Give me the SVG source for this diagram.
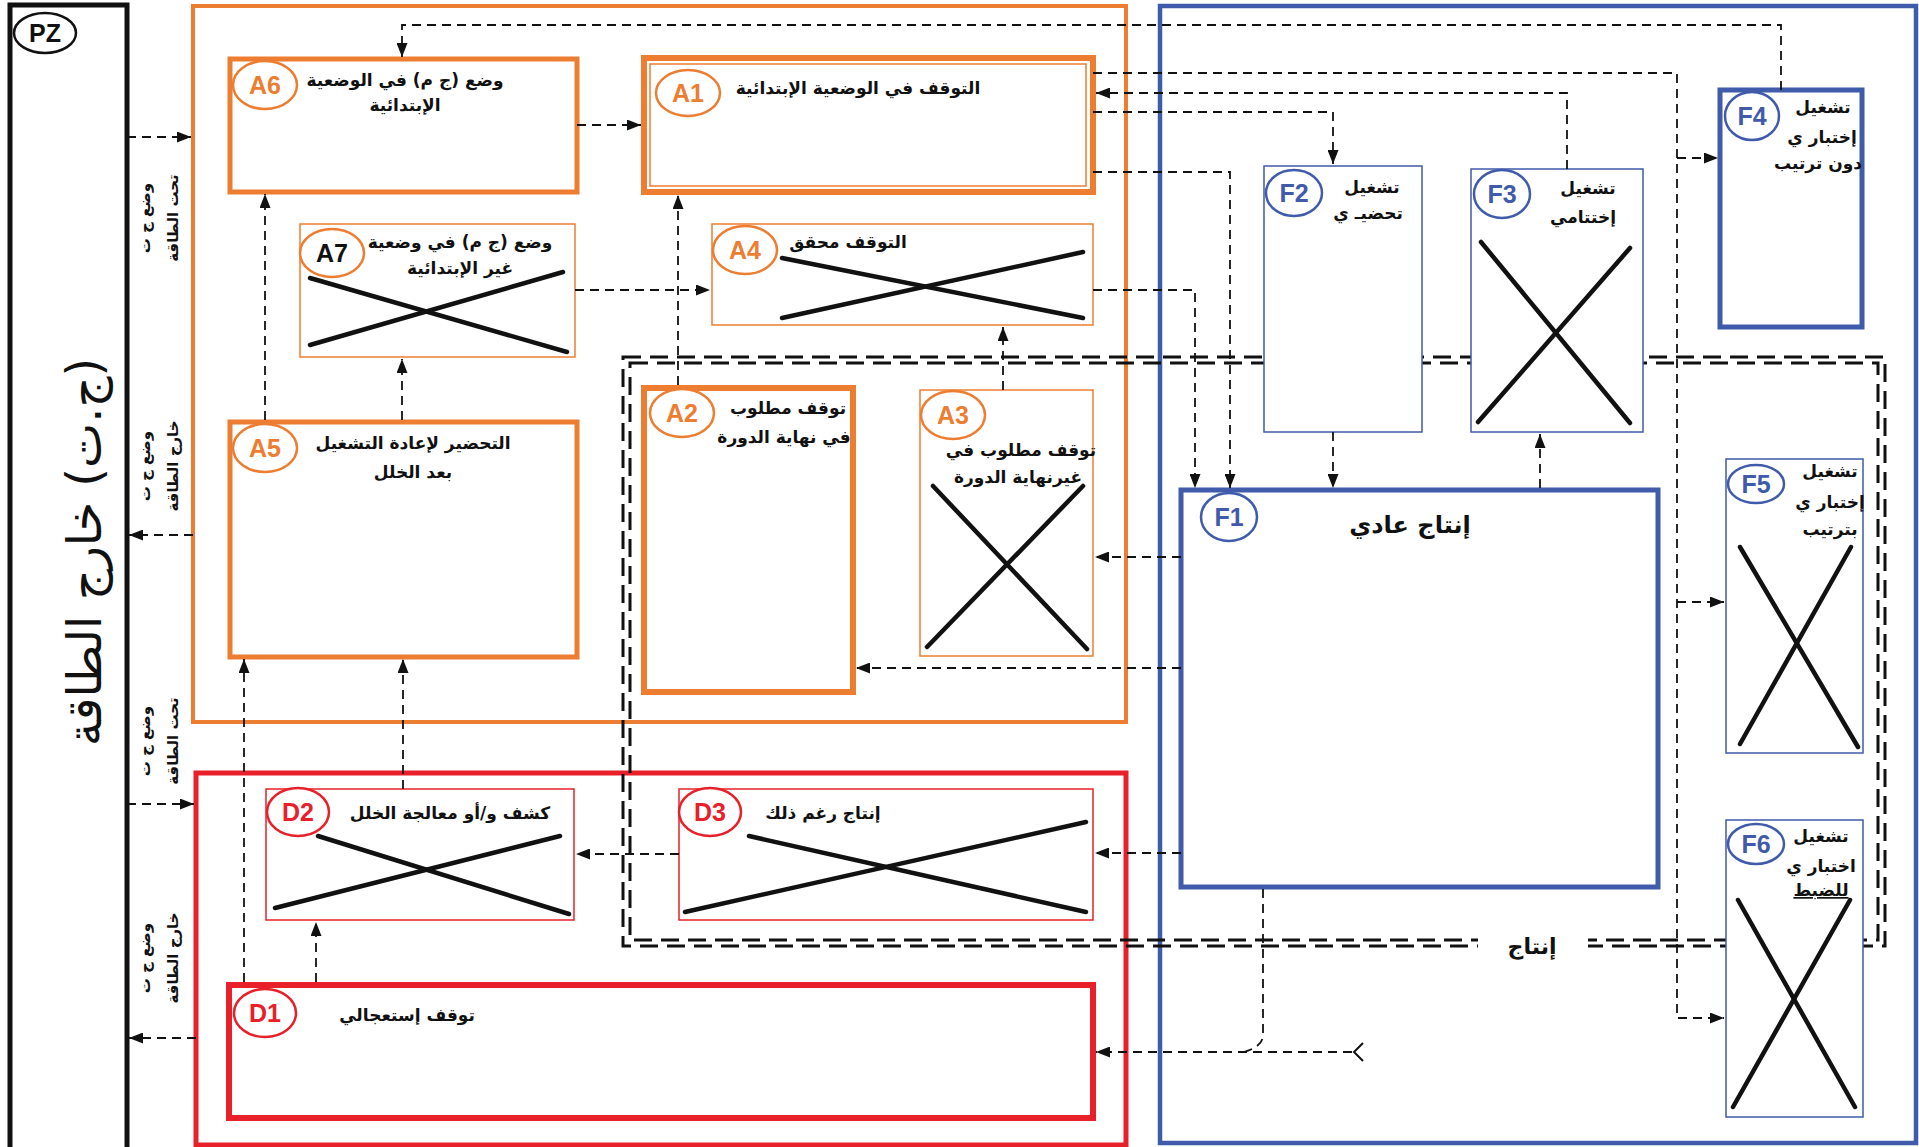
<svg xmlns="http://www.w3.org/2000/svg" width="1919" height="1147" viewBox="0 0 1919 1147">
<defs>
<style>
.c{fill:none;stroke:#111;stroke-width:1.8;stroke-dasharray:9 6}
.ar{marker-end:url(#ah)}
.x{stroke:#111;stroke-width:4.5;stroke-linecap:round}
.t{font-family:"DejaVu Sans",sans-serif;font-weight:bold;font-size:17px;fill:#111;text-anchor:middle;direction:rtl}
.ts{font-family:"DejaVu Sans",sans-serif;font-weight:bold;font-size:15px;fill:#111;text-anchor:middle;direction:rtl}
.lbl{font-family:"Liberation Sans",Arial,sans-serif;font-weight:bold;font-size:25px;text-anchor:middle}
.or{fill:none;stroke:#ED7D31}
.rd{fill:none;stroke:#E8202A}
.bl{fill:none;stroke:#3F5BA9}
.wb{fill:#fff}
.enc{fill:none;stroke:#111;stroke-width:3;stroke-dasharray:18 9}
</style>
<marker id="ah" viewBox="0 0 14 11" refX="14" refY="5.5" markerWidth="14" markerHeight="11" markerUnits="userSpaceOnUse" orient="auto"><path d="M0,0 L14,5.5 L0,11 z" fill="#111"/></marker>
</defs>
<rect x="0" y="0" width="1919" height="1147" fill="#fff"/>

<!-- containers -->
<g id="PZ">
<rect x="10" y="5" width="117" height="1150" fill="none" stroke="#111" stroke-width="5"/>
<ellipse cx="45" cy="33" rx="31" ry="20" fill="#fff" stroke="#111" stroke-width="2.5"/>
<text x="45" y="42" font-family="Liberation Sans, Arial, sans-serif" font-weight="bold" font-size="25" text-anchor="middle" fill="#111">PZ</text>
<text transform="translate(101,552) rotate(-90)" font-family="DejaVu Sans, sans-serif" font-size="48" text-anchor="middle" fill="#111" direction="rtl">(ج.ت) خارج الطاقة</text>
</g>
<g id="side-labels">
<text class="ts" transform="translate(150,218) rotate(-90)">وضع ج ت</text>
<text class="ts" transform="translate(178,218) rotate(-90)">تحت الطاقة</text>
<text class="ts" transform="translate(150,466) rotate(-90)">وضع ج ت</text>
<text class="ts" transform="translate(178,466) rotate(-90)">خارج الطاقة</text>
<text class="ts" transform="translate(150,741) rotate(-90)">وضع ج ت</text>
<text class="ts" transform="translate(178,741) rotate(-90)">تحت الطاقة</text>
<text class="ts" transform="translate(150,958) rotate(-90)">وضع ج ت</text>
<text class="ts" transform="translate(178,958) rotate(-90)">خارج الطاقة</text>
</g>
<g id="group-A"><rect x="193" y="6" width="933" height="716" class="or" stroke-width="4"/></g>
<g id="group-D"><rect x="196" y="773" width="930" height="372" class="rd" stroke-width="5"/></g>
<g id="group-F"><rect x="1160" y="6" width="756" height="1137" class="bl" stroke-width="4.5"/></g>

<g id="production">
<rect x="623" y="357" width="1262" height="589" class="enc"/>
<rect x="630" y="363" width="1248" height="577" class="enc"/>
<rect x="1478" y="930" width="110" height="26" fill="#fff"/>
<text x="1532" y="954" font-family="DejaVu Sans, sans-serif" font-weight="bold" font-size="22" text-anchor="middle" fill="#111" direction="rtl">إنتاج</text>
</g>

<!-- A nodes -->
<g id="A6">
<rect x="230" y="59" width="347" height="133" class="wb"/><rect x="230" y="59" width="347" height="133" class="or" stroke-width="5"/>
<ellipse cx="265" cy="85" rx="32" ry="24" fill="#fff" stroke="#ED7D31" stroke-width="2.5"/>
<text x="265" y="94" class="lbl" fill="#ED7D31">A6</text>
<text x="405" y="86" class="t">وضع (ج م) في الوضعية</text>
<text x="405" y="111" class="t">الإبتدائية</text>
</g>
<g id="A1">
<rect x="644" y="58" width="449" height="134" class="wb"/><rect x="644" y="58" width="449" height="134" class="or" stroke-width="6"/>
<rect x="650" y="64" width="436" height="122" class="or" stroke-width="1.5"/>
<ellipse cx="688" cy="93" rx="32" ry="23" fill="#fff" stroke="#ED7D31" stroke-width="2.5"/>
<text x="688" y="102" class="lbl" fill="#ED7D31">A1</text>
<text x="858" y="94" class="t">التوقف في الوضعية الإبتدائية</text>
</g>
<g id="A7">
<rect x="300" y="224" width="275" height="133" class="wb"/><rect x="300" y="224" width="275" height="133" class="or" stroke-width="1.5"/>
<line x1="310" y1="278" x2="567" y2="352" class="x"/><line x1="310" y1="345" x2="563" y2="272" class="x"/>
<ellipse cx="332" cy="253" rx="32" ry="24" fill="#fff" stroke="#ED7D31" stroke-width="2.5"/>
<text x="332" y="262" class="lbl" fill="#111">A7</text>
<text x="460" y="248" class="t">وضع (ج م) في وضعية</text>
<text x="460" y="274" class="t">غير الإبتدائية</text>
</g>
<g id="A4">
<rect x="712" y="224" width="381" height="101" class="wb"/><rect x="712" y="224" width="381" height="101" class="or" stroke-width="1.5"/>
<line x1="782" y1="258" x2="1083" y2="318" class="x"/><line x1="782" y1="318" x2="1083" y2="252" class="x"/>
<ellipse cx="745" cy="250" rx="32" ry="24" fill="#fff" stroke="#ED7D31" stroke-width="2.5"/>
<text x="745" y="259" class="lbl" fill="#ED7D31">A4</text>
<text x="848" y="248" class="t">التوقف محقق</text>
</g>
<g id="A5">
<rect x="230" y="422" width="347" height="235" class="wb"/><rect x="230" y="422" width="347" height="235" class="or" stroke-width="5"/>
<ellipse cx="265" cy="448" rx="32" ry="24" fill="#fff" stroke="#ED7D31" stroke-width="2.5"/>
<text x="265" y="457" class="lbl" fill="#ED7D31">A5</text>
<text x="413" y="449" class="t">التحضير لإعادة التشغيل</text>
<text x="413" y="478" class="t">بعد الخلل</text>
</g>
<g id="A2">
<rect x="644" y="388" width="209" height="304" class="wb"/><rect x="644" y="388" width="209" height="304" class="or" stroke-width="6"/>
<ellipse cx="682" cy="413" rx="32" ry="24" fill="#fff" stroke="#ED7D31" stroke-width="2.5"/>
<text x="682" y="422" class="lbl" fill="#ED7D31">A2</text>
<text x="788" y="414" class="t">توقف مطلوب</text>
<text x="784" y="443" class="t">في نهاية الدورة</text>
</g>
<g id="A3">
<rect x="920" y="390" width="173" height="266" class="wb"/><rect x="920" y="390" width="173" height="266" class="or" stroke-width="1.5"/>
<line x1="933" y1="486" x2="1087" y2="649" class="x"/><line x1="1083" y1="486" x2="927" y2="647" class="x"/>
<ellipse cx="953" cy="415" rx="32" ry="24" fill="#fff" stroke="#ED7D31" stroke-width="2.5"/>
<text x="953" y="424" class="lbl" fill="#ED7D31">A3</text>
<text x="1021" y="456" class="t">توقف مطلوب في</text>
<text x="1018" y="483" class="t">غيرنهاية الدورة</text>
</g>

<!-- D nodes -->
<g id="D2">
<rect x="266" y="789" width="308" height="131" class="wb"/><rect x="266" y="789" width="308" height="131" class="rd" stroke-width="1.5"/>
<line x1="318" y1="836" x2="569" y2="914" class="x"/><line x1="275" y1="908" x2="560" y2="836" class="x"/>
<ellipse cx="298" cy="812" rx="31" ry="24" fill="#fff" stroke="#E8202A" stroke-width="2.5"/>
<text x="298" y="821" class="lbl" fill="#E8202A">D2</text>
<text x="450" y="819" class="t">كشف و/أو معالجة الخلل</text>
</g>
<g id="D3">
<rect x="679" y="789" width="414" height="131" class="wb"/><rect x="679" y="789" width="414" height="131" class="rd" stroke-width="1.5"/>
<line x1="749" y1="836" x2="1086" y2="912" class="x"/><line x1="685" y1="912" x2="1086" y2="822" class="x"/>
<ellipse cx="710" cy="812" rx="31" ry="24" fill="#fff" stroke="#E8202A" stroke-width="2.5"/>
<text x="710" y="821" class="lbl" fill="#E8202A">D3</text>
<text x="823" y="819" class="t">إنتاج رغم ذلك</text>
</g>
<g id="D1">
<rect x="229" y="985" width="864" height="133" class="wb"/><rect x="229" y="985" width="864" height="133" class="rd" stroke-width="6"/>
<ellipse cx="265" cy="1013" rx="31" ry="24" fill="#fff" stroke="#E8202A" stroke-width="2.5"/>
<text x="265" y="1022" class="lbl" fill="#E8202A">D1</text>
<text x="407" y="1021" class="t">توقف إستعجالي</text>
</g>

<!-- F nodes -->
<g id="F1">
<rect x="1181" y="490" width="477" height="397" class="wb"/><rect x="1181" y="490" width="477" height="397" class="bl" stroke-width="5"/>
<ellipse cx="1229" cy="517" rx="28" ry="24" fill="#fff" stroke="#3F5BA9" stroke-width="2.5"/>
<text x="1229" y="526" class="lbl" fill="#3F5BA9">F1</text>
<text x="1410" y="533" font-family="DejaVu Sans, sans-serif" font-weight="bold" font-size="24" text-anchor="middle" fill="#111" direction="rtl">إنتاج عادي</text>
</g>
<g id="F2">
<rect x="1264" y="166" width="158" height="266" class="wb"/><rect x="1264" y="166" width="158" height="266" class="bl" stroke-width="1.5"/>
<ellipse cx="1294" cy="193" rx="28" ry="23" fill="#fff" stroke="#3F5BA9" stroke-width="2.5"/>
<text x="1294" y="202" class="lbl" fill="#3F5BA9">F2</text>
<text x="1372" y="193" class="t">تشغيل</text>
<text x="1368" y="219" class="t">تحضيـ ي</text>
</g>
<g id="F3">
<rect x="1471" y="169" width="172" height="263" class="wb"/><rect x="1471" y="169" width="172" height="263" class="bl" stroke-width="1.5"/>
<line x1="1481" y1="242" x2="1630" y2="423" class="x"/><line x1="1630" y1="248" x2="1478" y2="422" class="x"/>
<ellipse cx="1502" cy="194" rx="28" ry="24" fill="#fff" stroke="#3F5BA9" stroke-width="2.5"/>
<text x="1502" y="203" class="lbl" fill="#3F5BA9">F3</text>
<text x="1588" y="194" class="t">تشغيل</text>
<text x="1583" y="223" class="t">إختتامي</text>
</g>
<g id="F4">
<rect x="1720" y="90" width="142" height="237" class="wb"/><rect x="1720" y="90" width="142" height="237" class="bl" stroke-width="5"/>
<ellipse cx="1752" cy="116" rx="27" ry="24" fill="#fff" stroke="#3F5BA9" stroke-width="2.5"/>
<text x="1752" y="125" class="lbl" fill="#3F5BA9">F4</text>
<text x="1823" y="113" class="t">تشغيل</text>
<text x="1822" y="143" class="t">إختبار ي</text>
<text x="1818" y="169" class="t">دون ترتيب</text>
</g>
<g id="F5">
<rect x="1726" y="459" width="137" height="294" class="wb"/><rect x="1726" y="459" width="137" height="294" class="bl" stroke-width="1.5"/>
<line x1="1740" y1="547" x2="1858" y2="747" class="x"/><line x1="1851" y1="547" x2="1740" y2="744" class="x"/>
<ellipse cx="1756" cy="484" rx="28" ry="19" fill="#fff" stroke="#3F5BA9" stroke-width="2.5"/>
<text x="1756" y="493" class="lbl" fill="#3F5BA9">F5</text>
<text x="1830" y="477" class="t">تشغيل</text>
<text x="1830" y="508" class="t">إختبار ي</text>
<text x="1830" y="535" class="t">بترتيب</text>
</g>
<g id="F6">
<rect x="1726" y="820" width="137" height="297" class="wb"/><rect x="1726" y="820" width="137" height="297" class="bl" stroke-width="1.5"/>
<line x1="1738" y1="900" x2="1855" y2="1107" class="x"/><line x1="1850" y1="900" x2="1733" y2="1107" class="x"/>
<ellipse cx="1756" cy="844" rx="28" ry="20" fill="#fff" stroke="#3F5BA9" stroke-width="2.5"/>
<text x="1756" y="853" class="lbl" fill="#3F5BA9">F6</text>
<text x="1821" y="842" class="t">تشغيل</text>
<text x="1821" y="872" class="t">اختبار ي</text>
<text x="1821" y="896" class="t" text-decoration="underline">للضبط</text>
</g>

<!-- connectors -->
<g id="connectors">
<path class="c ar" d="M127,137 H191"/>
<path class="c ar" d="M193,535 H129"/>
<path class="c ar" d="M127,804 H194"/>
<path class="c ar" d="M196,1038 H129"/>
<path class="c ar" d="M577,125 H641"/>
<path class="c ar" d="M1781,90 V25 H402 V57"/>
<path class="c ar" d="M1093,73 H1677 V1018 H1724"/>
<path class="c ar" d="M1677,158 H1718"/>
<path class="c ar" d="M1677,602 H1724"/>
<path class="c ar" d="M1567,169 V93 H1096"/>
<path class="c ar" d="M1093,112 H1333 V164"/>
<path class="c ar" d="M1093,172 H1230 V488"/>
<path class="c ar" d="M1093,290 H1195 V488"/>
<path class="c ar" d="M1333,432 V488"/>
<path class="c ar" d="M1540,488 V434"/>
<path class="c ar" d="M575,290 H710"/>
<path class="c ar" d="M678,385 V195"/>
<path class="c ar" d="M1003,390 V327"/>
<path class="c ar" d="M265,420 V194"/>
<path class="c ar" d="M402,420 V359"/>
<path class="c ar" d="M1181,557 H1095"/>
<path class="c ar" d="M1181,668 H856"/>
<path class="c ar" d="M1181,853 H1095"/>
<path class="c ar" d="M679,854 H576"/>
<path class="c ar" d="M316,982 V922"/>
<path class="c ar" d="M244,982 V659"/>
<path class="c ar" d="M403,789 V659"/>
<path class="c" d="M1263,889 V1036 Q1262,1048 1240,1053"/>
<path class="c ar" d="M1352,1052 H1096"/>
<path d="M1363,1043 L1354,1052 L1363,1061" fill="none" stroke="#111" stroke-width="2"/>
</g>
</svg>
